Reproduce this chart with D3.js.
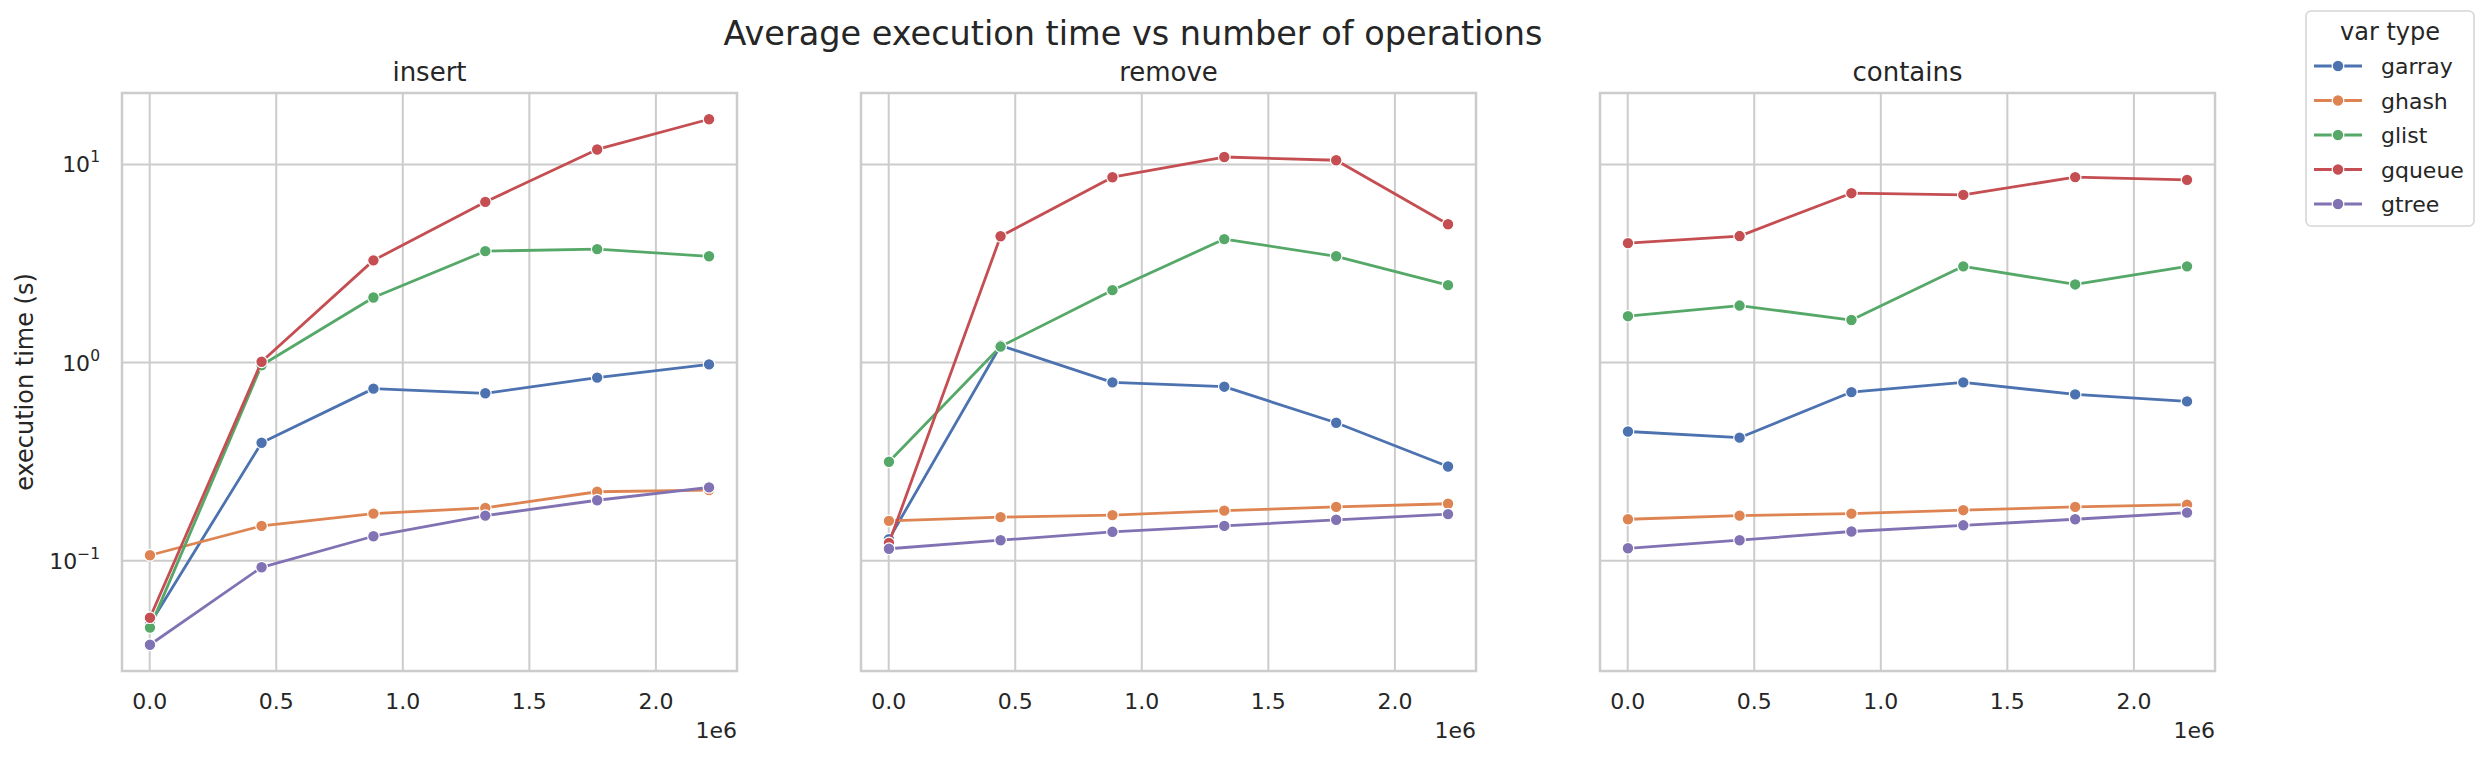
<!DOCTYPE html>
<html>
<head>
<meta charset="utf-8">
<script src="https://cdn.jsdelivr.net/npm/d3@7"></script>
<style>
  body { margin: 0; background: #fff; }
  svg text { font-family: "DejaVu Sans", sans-serif; fill: #262626; }
</style>
</head>
<body>
<svg id="chart" width="2486" height="758"></svg>
<script>
// number of operations (x)
const ops = [1000, 442000, 884000, 1326000, 1768000, 2210000];
const varTypes = ["garray", "ghash", "glist", "gqueue", "gtree"];
const colors = ["#4C72B0", "#DD8452", "#55A868", "#C44E52", "#8172B3"];
const panels = ["insert", "remove", "contains"];

// execution time (s), one array per panel and var type
const insertTimes = {
  garray: [0.048, 0.394, 0.739, 0.700, 0.840, 0.980],
  ghash:  [0.1066, 0.150, 0.173, 0.185, 0.223, 0.2275],
  glist:  [0.046, 0.97, 2.13, 3.65, 3.74, 3.44],
  gqueue: [0.0516, 1.01, 3.28, 6.47, 11.9, 16.9],
  gtree:  [0.0377, 0.0927, 0.133, 0.169, 0.202, 0.2345]
};
const removeTimes = {
  garray: [0.1286, 1.22, 0.795, 0.756, 0.497, 0.299],
  ghash:  [0.159, 0.166, 0.170, 0.179, 0.187, 0.194],
  glist:  [0.316, 1.205, 2.32, 4.20, 3.44, 2.46],
  gqueue: [0.123, 4.34, 8.62, 10.9, 10.5, 4.99],
  gtree:  [0.115, 0.127, 0.140, 0.150, 0.161, 0.172]
};
const containsTimes = {
  garray: [0.449, 0.418, 0.710, 0.795, 0.691, 0.637],
  ghash:  [0.162, 0.169, 0.173, 0.180, 0.187, 0.192],
  glist:  [1.715, 1.94, 1.64, 3.06, 2.48, 3.06],
  gqueue: [4.01, 4.35, 7.16, 7.02, 8.63, 8.36],
  gtree:  [0.1156, 0.127, 0.1405, 0.151, 0.162, 0.175]
};
const panelData = [insertTimes, removeTimes, containsTimes];

const xTicks = [0, 500000, 1000000, 1500000, 2000000];
const yTicks = [0.1, 1, 10];
const yTickExp = ["\u22121", "0", "1"];

const svg = d3.select("#chart");
const left0 = 122, panelW = 615, step = 739, plotTop = 93, plotBottom = 671;

// matplotlib-like 5% margins
const xExt = d3.extent(ops);
const xPad = (xExt[1] - xExt[0]) * 0.05;
const xDomain = [xExt[0] - xPad, xExt[1] + xPad];

const allY = panelData.flatMap(p => varTypes.flatMap(v => p[v]));
const lyExt = d3.extent(allY).map(Math.log10);
const lyPad = (lyExt[1] - lyExt[0]) * 0.05;
const y = d3.scaleLog()
  .domain([Math.pow(10, lyExt[0] - lyPad), Math.pow(10, lyExt[1] + lyPad)])
  .range([plotBottom, plotTop]);

// suptitle
svg.append("text")
  .attr("x", 1133).attr("y", 45)
  .attr("text-anchor", "middle")
  .style("font-size", "33.5px")
  .text("Average execution time vs number of operations");

panels.forEach((name, pi) => {
  const x0 = left0 + pi * step;
  const x = d3.scaleLinear().domain(xDomain).range([x0, x0 + panelW]);
  const g = svg.append("g").attr("class", "panel-" + name);

  // grid
  g.selectAll(".vgrid").data(xTicks).enter().append("line")
    .attr("x1", d => x(d)).attr("x2", d => x(d))
    .attr("y1", plotTop).attr("y2", plotBottom)
    .attr("stroke", "#cccccc").attr("stroke-width", 2);
  g.selectAll(".hgrid").data(yTicks).enter().append("line")
    .attr("x1", x0).attr("x2", x0 + panelW)
    .attr("y1", d => y(d)).attr("y2", d => y(d))
    .attr("stroke", "#cccccc").attr("stroke-width", 2);

  // x tick labels
  g.selectAll(".xtl").data(xTicks).enter().append("text")
    .attr("x", d => x(d)).attr("y", 709)
    .attr("text-anchor", "middle")
    .style("font-size", "22px")
    .text(d => (d / 1e6).toFixed(1));
  g.append("text")
    .attr("x", x0 + panelW).attr("y", 738)
    .attr("text-anchor", "end")
    .style("font-size", "22px")
    .text("1e6");

  // panel title
  g.append("text")
    .attr("x", x0 + panelW / 2).attr("y", 81)
    .attr("text-anchor", "middle")
    .style("font-size", "26px")
    .text(name);

  if (pi === 0) {
    yTicks.forEach((t, i) => {
      const txt = g.append("text")
        .attr("x", x0 - 22).attr("y", y(t) + 8)
        .attr("text-anchor", "end")
        .style("font-size", "22px");
      txt.append("tspan").text("10");
      txt.append("tspan").attr("dy", -10).style("font-size", "15.5px").text(yTickExp[i]);
    });
    g.append("text")
      .attr("transform", `translate(33, ${(plotTop + plotBottom) / 2}) rotate(-90)`)
      .attr("text-anchor", "middle")
      .style("font-size", "24px")
      .text("execution time (s)");
  }

  // series
  const line = d3.line().x((d, i) => x(ops[i])).y(d => y(d));
  varTypes.forEach((v, vi) => {
    const vals = panelData[pi][v];
    g.append("path")
      .datum(vals)
      .attr("d", line)
      .attr("fill", "none")
      .attr("stroke", colors[vi])
      .attr("stroke-width", 2.8)
      .attr("stroke-linejoin", "round");
    g.selectAll(".pt-" + v).data(vals).enter().append("circle")
      .attr("cx", (d, i) => x(ops[i]))
      .attr("cy", d => y(d))
      .attr("r", 5.8)
      .attr("fill", colors[vi])
      .attr("stroke", "#fff")
      .attr("stroke-width", 1.2);
  });

  // spines
  g.append("rect")
    .attr("x", x0).attr("y", plotTop)
    .attr("width", panelW).attr("height", plotBottom - plotTop)
    .attr("fill", "none")
    .attr("stroke", "#cccccc").attr("stroke-width", 2.5);
});

// legend
const lg = svg.append("g").attr("class", "legend");
lg.append("rect")
  .attr("x", 2306).attr("y", 11)
  .attr("width", 168).attr("height", 215)
  .attr("rx", 5)
  .attr("fill", "#fff").attr("fill-opacity", 0.8)
  .attr("stroke", "#d6d6d6").attr("stroke-width", 1.6);
lg.append("text")
  .attr("x", 2390).attr("y", 40)
  .attr("text-anchor", "middle")
  .style("font-size", "24px")
  .text("var type");
varTypes.forEach((v, i) => {
  const ly = 66 + i * 34.5;
  lg.append("line")
    .attr("x1", 2314).attr("x2", 2362)
    .attr("y1", ly).attr("y2", ly)
    .attr("stroke", colors[i]).attr("stroke-width", 2.8);
  lg.append("circle")
    .attr("cx", 2338).attr("cy", ly).attr("r", 5.8)
    .attr("fill", colors[i]).attr("stroke", "#fff").attr("stroke-width", 1.2);
  lg.append("text")
    .attr("x", 2381).attr("y", ly + 8)
    .style("font-size", "22px")
    .text(v);
});
</script>
</body>
</html>
